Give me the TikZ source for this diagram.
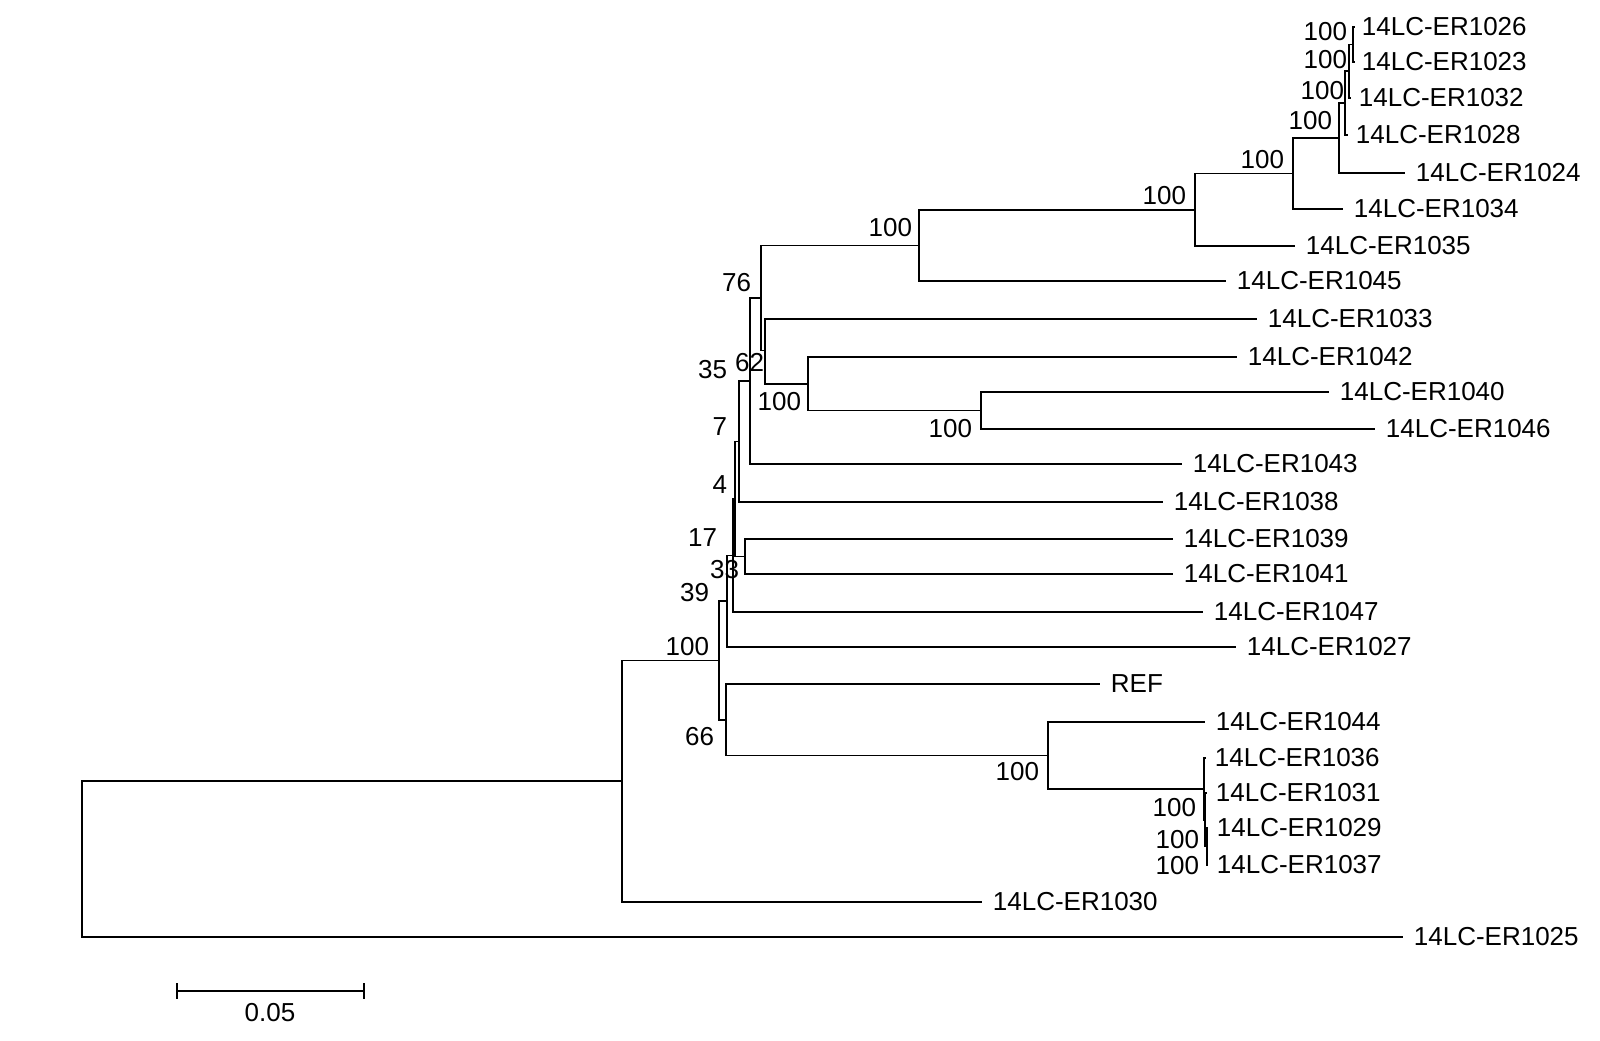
\documentclass[tikz,border=0pt]{standalone}
\usepackage{fontspec}
\setmainfont{Liberation Sans}
\usetikzlibrary{calc}

\begin{document}
\begin{tikzpicture}[x=0.5pt, y=-0.5pt, line width=0.9pt,
    leaf/.style={anchor=west, inner xsep=5pt, inner ysep=0pt,
      font=\fontsize{13}{15}\selectfont},
    boot/.style={anchor=east, inner sep=0pt,
      font=\fontsize{13}{15}\selectfont}]
    \useasboundingbox (0, 0) rectangle (1600, 1040);

    \node[leaf, inner xsep=3pt] (l1026) at (1355, 27) {14LC-ER1026};
    \node[leaf, inner xsep=3pt] (l1023) at (1355, 62) {14LC-ER1023};
    \node[leaf, inner xsep=3.5pt] (l1032) at (1351, 98) {14LC-ER1032};
    \node[leaf, inner xsep=3.5pt] (l1028) at (1348, 135) {14LC-ER1028};
    \node[leaf] (l1024) at (1405, 173) {14LC-ER1024};
    \node[leaf] (l1034) at (1343, 209) {14LC-ER1034};
    \node[leaf] (l1035) at (1295, 246) {14LC-ER1035};
    \node[leaf] (l1045) at (1226, 281) {14LC-ER1045};
    \node[leaf] (l1033) at (1257, 319) {14LC-ER1033};
    \node[leaf] (l1042) at (1237, 357) {14LC-ER1042};
    \node[leaf] (l1040) at (1329, 392) {14LC-ER1040};
    \node[leaf] (l1046) at (1375, 429) {14LC-ER1046};
    \node[leaf] (l1043) at (1182, 464) {14LC-ER1043};
    \node[leaf] (l1038) at (1163, 502) {14LC-ER1038};
    \node[leaf] (l1039) at (1173, 539) {14LC-ER1039};
    \node[leaf] (l1041) at (1173, 574) {14LC-ER1041};
    \node[leaf] (l1047) at (1203, 612) {14LC-ER1047};
    \node[leaf] (l1027) at (1236, 647) {14LC-ER1027};
    \node[leaf] (lref) at (1100, 684) {REF};
    \node[leaf] (l1044) at (1205, 722) {14LC-ER1044};
    \node[leaf, inner xsep=4pt] (l1036) at (1206, 758) {14LC-ER1036};
    \node[leaf, inner xsep=4pt] (l1031) at (1207, 793) {14LC-ER1031};
    \node[leaf, inner xsep=4pt] (l1029) at (1208, 828) {14LC-ER1029};
    \node[leaf, inner xsep=4pt] (l1037) at (1208, 865) {14LC-ER1037};
    \node[leaf] (l1030) at (982, 902) {14LC-ER1030};
    \node[leaf] (l1025) at (1403, 937) {14LC-ER1025};

    \coordinate (n1) at (1353, 44.5);
    \coordinate (n2) at (1349, 71);
    \coordinate (n3) at (1345, 103);
    \coordinate (n4) at (1339, 138);
    \coordinate (n5) at (1293, 173.5);
    \coordinate (n6) at (1195, 210);
    \coordinate (n7) at (919, 245.5);
    \coordinate (n76) at (761, 298);
    \coordinate (n62) at (765, 350.5);
    \coordinate (n10) at (808, 384);
    \coordinate (n11) at (981, 410.5);
    \coordinate (n35) at (750, 381);
    \coordinate (n7b) at (739, 441.5);
    \coordinate (n4b) at (735, 499);
    \coordinate (n33) at (745, 556.5);
    \coordinate (n17) at (733, 555.5);
    \coordinate (n39) at (727, 601);
    \coordinate (n100) at (719, 660.5);
    \coordinate (n66) at (726, 720);
    \coordinate (n18) at (1048, 755.5);
    \coordinate (n19) at (1204, 789);
    \coordinate (n20) at (1205, 820);
    \coordinate (n21) at (1207, 846.5);
    \coordinate (na) at (622, 781);
    \coordinate (root) at (82, 859);

    \draw (n1) |- (l1026);
    \draw (n1) |- (l1023);
    \draw (n2) |- (n1);
    \draw (n2) |- (l1032);
    \draw (n3) |- (n2);
    \draw (n3) |- (l1028);
    \draw (n4) |- (n3);
    \draw (n4) |- (l1024);
    \draw (n5) |- (n4);
    \draw (n5) |- (l1034);
    \draw (n6) |- (n5);
    \draw (n6) |- (l1035);
    \draw (n7) |- (n6);
    \draw (n7) |- (l1045);
    \draw (n76) |- (n7);
    \draw (n76) |- (n62);
    \draw (n62) |- (l1033);
    \draw (n62) |- (n10);
    \draw (n10) |- (l1042);
    \draw (n10) |- (n11);
    \draw (n11) |- (l1040);
    \draw (n11) |- (l1046);
    \draw (n35) |- (n76);
    \draw (n35) |- (l1043);
    \draw (n7b) |- (n35);
    \draw (n7b) |- (l1038);
    \draw (n4b) |- (n7b);
    \draw (n4b) |- (n33);
    \draw (n33) |- (l1039);
    \draw (n33) |- (l1041);
    \draw (n17) |- (n4b);
    \draw (n17) |- (l1047);
    \draw (n39) |- (n17);
    \draw (n39) |- (l1027);
    \draw (n100) |- (n39);
    \draw (n100) |- (n66);
    \draw (n66) |- (lref);
    \draw (n66) |- (n18);
    \draw (n18) |- (l1044);
    \draw (n18) |- (n19);
    \draw (n19) |- (l1036);
    \draw (n19) |- (n20);
    \draw (n20) |- (l1031);
    \draw (n20) |- (n21);
    \draw (n21) |- (l1029);
    \draw (n21) |- (l1037);
    \draw (na) |- (n100);
    \draw (na) |- (l1030);
    \draw (root) |- (na);
    \draw (root) |- (l1025);

    \node[boot] (b1) at (1348, 32) {100};
    \node[boot] (b2) at (1348, 60) {100};
    \node[boot] (b3) at (1345, 91) {100};
    \node[boot] (b4) at (1333, 121) {100};
    \node[boot] (b5) at (1285, 160) {100};
    \node[boot] (b6) at (1187, 196) {100};
    \node[boot] (b7) at (913, 228) {100};
    \node[boot] (b76) at (752, 283) {76};
    \node[boot] (b62) at (765, 363) {62};
    \node[boot] (b10) at (802, 402) {100};
    \node[boot] (b11) at (973, 429) {100};
    \node[boot] (b35) at (728, 370) {35};
    \node[boot] (b7b) at (728, 427) {7};
    \node[boot] (b4b) at (728, 485) {4};
    \node[boot] (b17) at (718, 538) {17};
    \node[boot] (b33) at (740, 570) {33};
    \node[boot] (b39) at (710, 593) {39};
    \node[boot] (b100) at (710, 647) {100};
    \node[boot] (b66) at (715, 737) {66};
    \node[boot] (b18) at (1040, 772) {100};
    \node[boot] (b19) at (1197, 808) {100};
    \node[boot] (b20) at (1200, 840) {100};
    \node[boot] (b21) at (1200, 866) {100};

    \coordinate (sbl) at (177, 991);
    \coordinate (sbr) at (364, 991);
    \draw (sbl) -- (sbr);
    \draw ($(sbl) + (0, -8)$) -- ($(sbl) + (0, 8)$);
    \draw ($(sbr) + (0, -8)$) -- ($(sbr) + (0, 8)$);
    \node[font=\fontsize{13}{15}\selectfont] (sblabel) at (270, 1013) {0.05};
\end{tikzpicture}
\end{document}
